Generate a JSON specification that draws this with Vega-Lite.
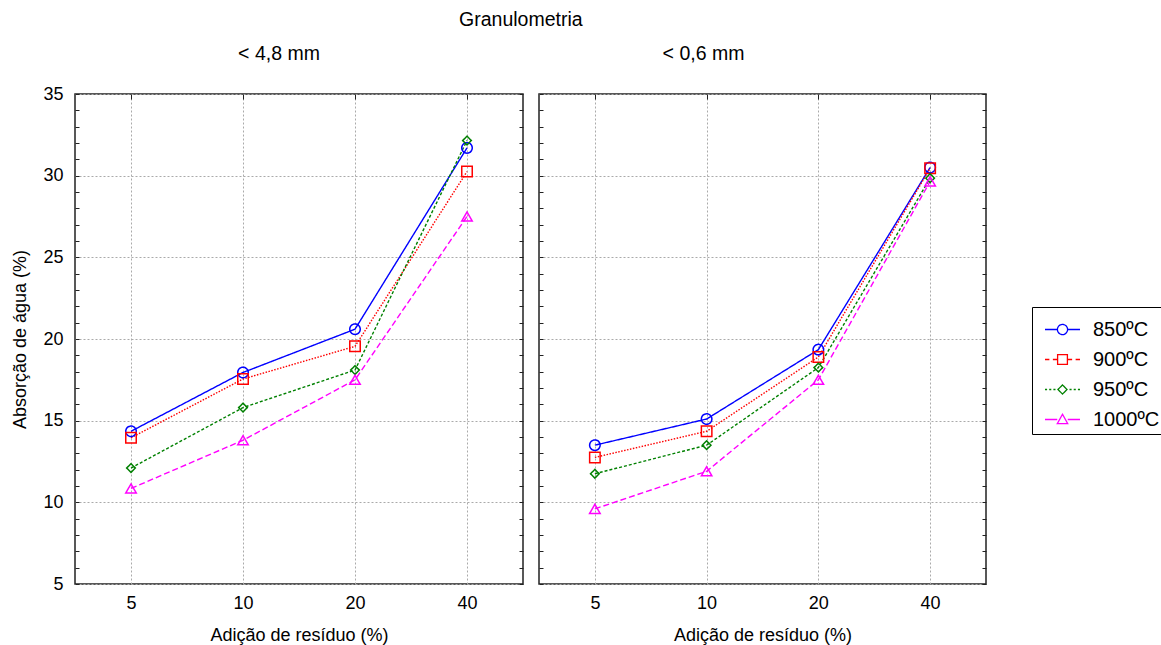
{
  "$schema": "https://vega.github.io/schema/vega-lite/v6.json",
  "padding": {"left": 11, "top": 10, "right": 5, "bottom": 5},
  "config": {
    "font": "Liberation Sans",
    "view": {"stroke": "#222222", "strokeWidth": 1.5},
    "title": {"fontSize": 19.5, "fontWeight": "normal", "color": "black", "font": "Liberation Sans"},
    "axis": {"labelFont": "Liberation Sans", "titleFont": "Liberation Sans", "labelFontSize": 18, "titleFontSize": 18, "titleFontWeight": "normal", "labelColor": "black", "titleColor": "black", "tickColor": "#222222", "domain": false},
    "legend": {
      "orient": "none", "legendX": 957, "legendY": 213, "title": null,
      "strokeColor": "black", "padding": 4, "symbolOffset": 8, "labelFontSize": 20, "labelFont": "Liberation Sans", "labelColor": "black",
      "symbolSize": 1225, "symbolStrokeWidth": 1.3, "labelOffset": 12, "rowPadding": 1
    },
    "concat": {"spacing": 12}
  },
  "title": {"text": "Granulometria", "anchor": "middle", "offset": 12, "dx": -67},
  "datasets": {
    "d": [
      {"panel": "A", "adicao": "5", "temp": "850ºC", "valor": 14.35},
      {"panel": "A", "adicao": "10", "temp": "850ºC", "valor": 17.95},
      {"panel": "A", "adicao": "20", "temp": "850ºC", "valor": 20.6},
      {"panel": "A", "adicao": "40", "temp": "850ºC", "valor": 31.7},
      {"panel": "A", "adicao": "5", "temp": "900ºC", "valor": 13.95},
      {"panel": "A", "adicao": "10", "temp": "900ºC", "valor": 17.55},
      {"panel": "A", "adicao": "20", "temp": "900ºC", "valor": 19.55},
      {"panel": "A", "adicao": "40", "temp": "900ºC", "valor": 30.25},
      {"panel": "A", "adicao": "5", "temp": "950ºC", "valor": 12.1},
      {"panel": "A", "adicao": "10", "temp": "950ºC", "valor": 15.8},
      {"panel": "A", "adicao": "20", "temp": "950ºC", "valor": 18.1},
      {"panel": "A", "adicao": "40", "temp": "950ºC", "valor": 32.15},
      {"panel": "A", "adicao": "5", "temp": "1000ºC", "valor": 10.85},
      {"panel": "A", "adicao": "10", "temp": "1000ºC", "valor": 13.8},
      {"panel": "A", "adicao": "20", "temp": "1000ºC", "valor": 17.5},
      {"panel": "A", "adicao": "40", "temp": "1000ºC", "valor": 27.5},
      {"panel": "B", "adicao": "5", "temp": "850ºC", "valor": 13.5},
      {"panel": "B", "adicao": "10", "temp": "850ºC", "valor": 15.1},
      {"panel": "B", "adicao": "20", "temp": "850ºC", "valor": 19.35},
      {"panel": "B", "adicao": "40", "temp": "850ºC", "valor": 30.5},
      {"panel": "B", "adicao": "5", "temp": "900ºC", "valor": 12.75},
      {"panel": "B", "adicao": "10", "temp": "900ºC", "valor": 14.35},
      {"panel": "B", "adicao": "20", "temp": "900ºC", "valor": 18.9},
      {"panel": "B", "adicao": "40", "temp": "900ºC", "valor": 30.45},
      {"panel": "B", "adicao": "5", "temp": "950ºC", "valor": 11.75},
      {"panel": "B", "adicao": "10", "temp": "950ºC", "valor": 13.5},
      {"panel": "B", "adicao": "20", "temp": "950ºC", "valor": 18.25},
      {"panel": "B", "adicao": "40", "temp": "950ºC", "valor": 29.85},
      {"panel": "B", "adicao": "5", "temp": "1000ºC", "valor": 9.6},
      {"panel": "B", "adicao": "10", "temp": "1000ºC", "valor": 11.9},
      {"panel": "B", "adicao": "20", "temp": "1000ºC", "valor": 17.5},
      {"panel": "B", "adicao": "40", "temp": "1000ºC", "valor": 29.65}
    ]
  },
  "data": {"name": "d"},
  "hconcat": [
    {
      "width": 448,
      "height": 490,
      "title": {"text": "< 4,8 mm", "offset": 21, "dx": -20},
      "transform": [{"filter": "datum.panel === 'A'"}],
      "layer": [
        {
          "mark": {"type": "line", "strokeWidth": 1.4},
          "encoding": {
            "x": {"field": "adicao", "type": "ordinal", "sort": ["5", "10", "20", "40"], "scale": {"type": "point", "padding": 0.5},
              "axis": {"orient": "bottom", "title": "Adição de resíduo (%)", "labelAngle": 0, "ticks": false, "labelPadding": 10, "titlePadding": 14, "grid": true, "gridColor": "#aaaaaa", "gridDash": [2, 2], "gridWidth": 1}},
            "y": {"field": "valor", "type": "quantitative", "scale": {"domain": [5, 35], "nice": false, "zero": false},
              "axis": {"orient": "left", "title": "Absorção de água (%)", "titlePadding": 13,
                "values": [5,6,7,8,9,10,11,12,13,14,15,16,17,18,19,20,21,22,23,24,25,26,27,28,29,30,31,32,33,34,35],
                "labelExpr": "datum.value % 5 === 0 ? datum.label : ''",
                "tickSize": -4, "labelPadding": 16,
                "grid": true, "gridColor": "#aaaaaa", "gridDash": [2, 2],
                "gridOpacity": {"condition": {"test": "datum.value % 5 === 0", "value": 1}, "value": 0}}},
            "color": {"field": "temp", "type": "nominal", "sort": ["850ºC", "900ºC", "950ºC", "1000ºC"],
              "scale": {"domain": ["850ºC", "900ºC", "950ºC", "1000ºC"], "range": ["#0000ff", "#ff0000", "#008000", "#ff00ff"]},
              "legend": {
                "encode": {"symbols": {"update": {"fill": {"value": "transparent"}, "strokeDash": {"value": [1, 0]}, "size": {"value": 1225},
                  "shape": {"signal": "datum.value === '850ºC' ? 'M-1,0L-0.29,0M0.29,0L1,0M0.29,0A0.29,0.29,0,1,0,-0.29,0A0.29,0.29,0,1,0,0.29,0' : datum.value === '900ºC' ? 'M-1,0L-0.75,0M-0.55,0L-0.3,0M0.3,0L0.55,0M0.75,0L1,0M-0.28,-0.28L0.28,-0.28L0.28,0.28L-0.28,0.28Z' : datum.value === '950ºC' ? 'M-1,0L-0.88,0M-0.76,0L-0.64,0M-0.52,0L-0.4,0M0.4,0L0.52,0M0.64,0L0.76,0M0.88,0L1,0M-0.26,0L0,-0.26L0.26,0L0,0.26Z' : 'M-1,0L-0.3,0M0.3,0L1,0M0,-0.3L0.3,0.24L-0.3,0.24Z'"}}}}
              }},
            "strokeDash": {"condition": [
              {"test": "datum.temp === '900ºC'", "value": [1.5, 1.5]},
              {"test": "datum.temp === '950ºC'", "value": [3, 2]},
              {"test": "datum.temp === '1000ºC'", "value": [6, 3]}], "value": [1, 0]}
          }
        },
        {
          "mark": {"type": "point", "filled": false, "strokeWidth": 1.5, "opacity": 1, "strokeDash": [1, 0]},
          "encoding": {
            "x": {"field": "adicao", "type": "ordinal", "sort": ["5", "10", "20", "40"], "scale": {"type": "point", "padding": 0.5},
              "axis": {"orient": "top", "title": null, "labels": false, "tickSize": -5, "grid": false}},
            "y": {"field": "valor", "type": "quantitative", "scale": {"domain": [5, 35], "nice": false, "zero": false},
              "axis": {"orient": "right", "title": null, "labels": false, "grid": false, "tickSize": -4,
                "values": [5,6,7,8,9,10,11,12,13,14,15,16,17,18,19,20,21,22,23,24,25,26,27,28,29,30,31,32,33,34,35]}},
            "color": {"field": "temp", "type": "nominal", "sort": ["850ºC", "900ºC", "950ºC", "1000ºC"]},
            "shape": {"condition": [
              {"test": "datum.temp === '900ºC'", "value": "square"},
              {"test": "datum.temp === '950ºC'", "value": "diamond"},
              {"test": "datum.temp === '1000ºC'", "value": "triangle-up"}], "value": "circle"},
            "size": {"condition": [
              {"test": "datum.temp === '950ºC'", "value": 75}], "value": 110}
          }
        }
      ],
      "resolve": {"axis": {"x": "independent", "y": "independent"}}
    },
    {
      "width": 447,
      "height": 490,
      "title": {"text": "< 0,6 mm", "offset": 29, "dx": -59},
      "transform": [{"filter": "datum.panel === 'B'"}],
      "layer": [
        {
          "mark": {"type": "line", "strokeWidth": 1.4},
          "encoding": {
            "x": {"field": "adicao", "type": "ordinal", "sort": ["5", "10", "20", "40"], "scale": {"type": "point", "padding": 0.5},
              "axis": {"orient": "bottom", "title": "Adição de resíduo (%)", "labelAngle": 0, "ticks": false, "labelPadding": 10, "titlePadding": 14, "grid": true, "gridColor": "#aaaaaa", "gridDash": [2, 2], "gridWidth": 1}},
            "y": {"field": "valor", "type": "quantitative", "scale": {"domain": [5, 35], "nice": false, "zero": false},
              "axis": {"orient": "left", "title": null, "labels": false,
                "values": [5,6,7,8,9,10,11,12,13,14,15,16,17,18,19,20,21,22,23,24,25,26,27,28,29,30,31,32,33,34,35],
                "tickSize": -4,
                "grid": true, "gridColor": "#aaaaaa", "gridDash": [2, 2],
                "gridOpacity": {"condition": {"test": "datum.value % 5 === 0", "value": 1}, "value": 0}}},
            "color": {"field": "temp", "type": "nominal", "sort": ["850ºC", "900ºC", "950ºC", "1000ºC"]},
            "strokeDash": {"condition": [
              {"test": "datum.temp === '900ºC'", "value": [1.5, 1.5]},
              {"test": "datum.temp === '950ºC'", "value": [3, 2]},
              {"test": "datum.temp === '1000ºC'", "value": [6, 3]}], "value": [1, 0]}
          }
        },
        {
          "mark": {"type": "point", "filled": false, "strokeWidth": 1.5, "opacity": 1, "strokeDash": [1, 0]},
          "encoding": {
            "x": {"field": "adicao", "type": "ordinal", "sort": ["5", "10", "20", "40"], "scale": {"type": "point", "padding": 0.5},
              "axis": {"orient": "top", "title": null, "labels": false, "tickSize": -5, "grid": false}},
            "y": {"field": "valor", "type": "quantitative", "scale": {"domain": [5, 35], "nice": false, "zero": false},
              "axis": {"orient": "right", "title": null, "labels": false, "grid": false, "tickSize": -4,
                "values": [5,6,7,8,9,10,11,12,13,14,15,16,17,18,19,20,21,22,23,24,25,26,27,28,29,30,31,32,33,34,35]}},
            "color": {"field": "temp", "type": "nominal", "sort": ["850ºC", "900ºC", "950ºC", "1000ºC"]},
            "shape": {"condition": [
              {"test": "datum.temp === '900ºC'", "value": "square"},
              {"test": "datum.temp === '950ºC'", "value": "diamond"},
              {"test": "datum.temp === '1000ºC'", "value": "triangle-up"}], "value": "circle"},
            "size": {"condition": [
              {"test": "datum.temp === '950ºC'", "value": 75}], "value": 110}
          }
        }
      ],
      "resolve": {"axis": {"x": "independent", "y": "independent"}}
    }
  ]
}
